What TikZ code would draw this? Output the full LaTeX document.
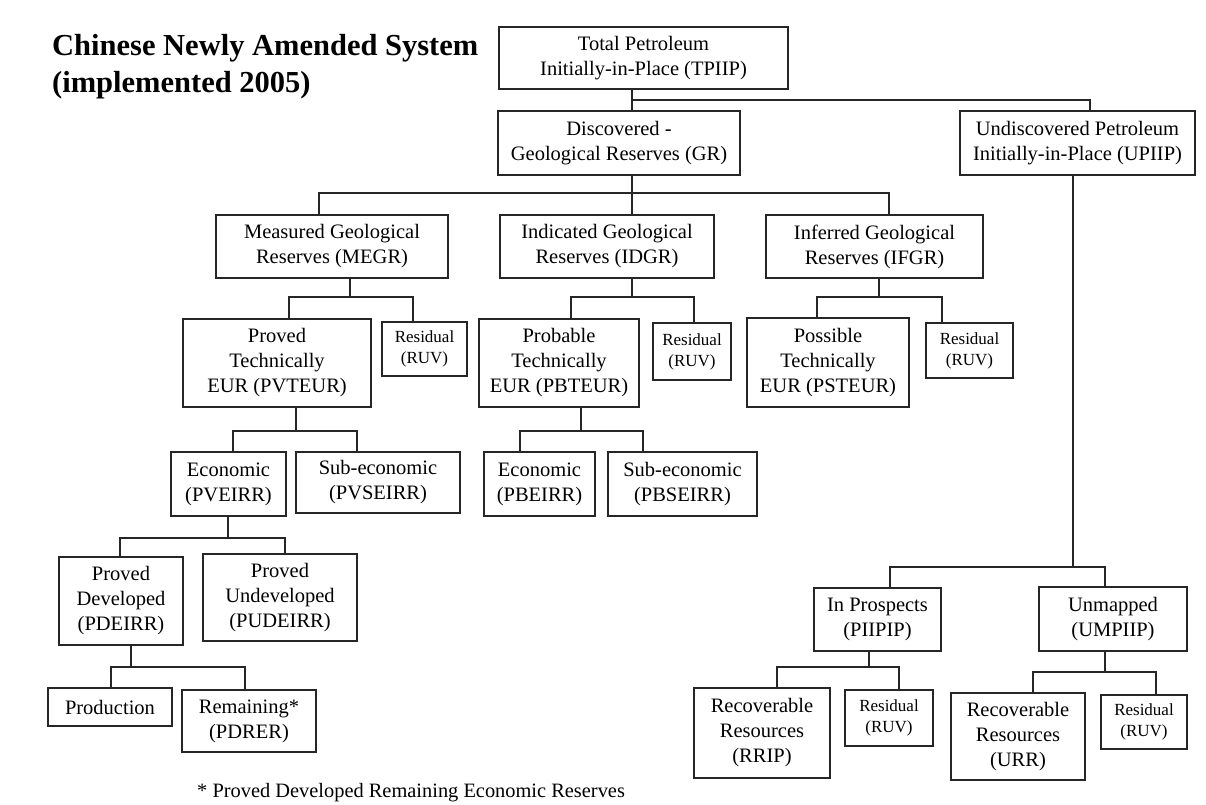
\documentclass[tikz,border=0pt]{standalone}
\usepackage{fontspec}
\setmainfont{Liberation Serif}
\usetikzlibrary{positioning}

\begin{document}
\begin{tikzpicture}[
  x=1pt, y=-1pt,
  box/.style={rectangle, draw=black!85, line width=1.3pt, align=center, inner sep=0pt, font=\fontsize{20.5}{25}\selectfont},
  resbox/.style={box, font=\fontsize{17}{21}\selectfont},
  link/.style={draw=black!85, line width=1.3pt},
  heading/.style={font=\fontsize{30.5}{37}\selectfont\bfseries, align=left, inner sep=0pt},
]
\useasboundingbox (0,0) rectangle (1206,804);

\node[heading, anchor=base west] (title) at (52,92) {Chinese Newly Amended System\\(implemented 2005)};

% top levels
\node[box, minimum width=289pt, minimum height=62pt] (tpiip) at (643.5,58) {Total Petroleum\\Initially-in-Place (TPIIP)};
\node[box, minimum width=242pt, minimum height=64pt] (gr) at (619,143) {Discovered -\\Geological Reserves (GR)};
\node[box, minimum width=235pt, minimum height=64pt] (upiip) at (1077.5,143) {Undiscovered Petroleum\\Initially-in-Place (UPIIP)};

% geological reserves
\node[box, minimum width=232pt, minimum height=63pt] (megr) at (332,246.5) {Measured Geological\\Reserves (MEGR)};
\node[box, minimum width=214pt, minimum height=63pt] (idgr) at (607,246.5) {Indicated Geological\\Reserves (IDGR)};
\node[box, minimum width=217pt, minimum height=63pt] (ifgr) at (874.5,246.5) {Inferred Geological\\Reserves (IFGR)};

% technically recoverable
\node[box, minimum width=188pt, minimum height=88pt] (pvteur) at (277,363) {Proved\\Technically\\EUR (PVTEUR)};
\node[resbox, minimum width=85pt, minimum height=54pt] (res1) at (424.5,349) {Residual\\(RUV)};
\node[box, minimum width=160pt, minimum height=88pt] (pbteur) at (559,363) {Probable\\Technically\\EUR (PBTEUR)};
\node[resbox, minimum width=78pt, minimum height=57pt] (res2) at (692,351.5) {Residual\\(RUV)};
\node[box, minimum width=162pt, minimum height=89pt] (psteur) at (828,362.5) {Possible\\Technically\\EUR (PSTEUR)};
\node[resbox, minimum width=87pt, minimum height=55pt] (res3) at (969.5,350.5) {Residual\\(RUV)};

% economic split
\node[box, minimum width=115pt, minimum height=64pt] (pveirr) at (228.5,484) {Economic\\(PVEIRR)};
\node[box, minimum width=164pt, minimum height=61pt] (pvseirr) at (378,482.5) {Sub-economic\\(PVSEIRR)};
\node[box, minimum width=111pt, minimum height=64pt] (pbeirr) at (539.5,484) {Economic\\(PBEIRR)};
\node[box, minimum width=149pt, minimum height=64pt] (pbseirr) at (682.5,484) {Sub-economic\\(PBSEIRR)};

% proved economic
\node[box, minimum width=124pt, minimum height=88pt] (pdeirr) at (121,601) {Proved\\Developed\\(PDEIRR)};
\node[box, minimum width=154pt, minimum height=87pt] (pudeirr) at (280,597.5) {Proved\\Undeveloped\\(PUDEIRR)};
\node[box, minimum width=124pt, minimum height=38pt] (prod) at (110,707) {Production};
\node[box, minimum width=134pt, minimum height=62pt] (remain) at (249,721) {Remaining*\\(PDRER)};

% undiscovered
\node[box, minimum width=127pt, minimum height=63pt] (piipip) at (877.5,619.5) {In Prospects\\(PIIPIP)};
\node[box, minimum width=148pt, minimum height=64pt] (umpiip) at (1113,619) {Unmapped\\(UMPIIP)};
\node[box, minimum width=136pt, minimum height=90pt] (rrip) at (762,733) {Recoverable\\Resources\\(RRIP)};
\node[resbox, minimum width=88pt, minimum height=56pt] (res4) at (889,718) {Residual\\(RUV)};
\node[box, minimum width=134pt, minimum height=87pt] (urr) at (1018,736.5) {Recoverable\\Resources\\(URR)};
\node[resbox, minimum width=86pt, minimum height=54pt] (res5) at (1144,722) {Residual\\(RUV)};

\node[anchor=base west, inner sep=0pt, font=\fontsize{20.4}{24}\selectfont] (note) at (197,797) {* Proved Developed Remaining Economic Reserves};

% connectors
\draw[link] (tpiip.south -| 632,0) -- (gr.north -| 632,0);
\draw[link] (tpiip.south -| 632,0) -- (632,100) -| (upiip.north -| 1090,0);

\draw[link] (gr.south -| 632,0) -- (632,193) -| (megr.north -| 319,0);
\draw[link] (gr.south -| 632,0) -- (idgr.north -| 632,0);
\draw[link] (gr.south -| 632,0) -- (632,193) -| (ifgr.north -| 889,0);

\draw[link] (megr.south -| 350,0) -- (350,297) -| (pvteur.north -| 289,0);
\draw[link] (megr.south -| 350,0) -- (350,297) -| (res1.north -| 413,0);
\draw[link] (idgr.south -| 632,0) -- (632,297) -| (pbteur.north -| 571,0);
\draw[link] (idgr.south -| 632,0) -- (632,297) -| (res2.north -| 694,0);
\draw[link] (ifgr.south -| 879,0) -- (879,297) -| (psteur.north -| 817,0);
\draw[link] (ifgr.south -| 879,0) -- (879,297) -| (res3.north -| 942,0);

\draw[link] (pvteur.south -| 296,0) -- (296,431) -| (pveirr.north -| 233,0);
\draw[link] (pvteur.south -| 296,0) -- (296,431) -| (pvseirr.north -| 357,0);
\draw[link] (pbteur.south -| 581,0) -- (581,431) -| (pbeirr.north -| 520,0);
\draw[link] (pbteur.south -| 581,0) -- (581,431) -| (pbseirr.north -| 643,0);

\draw[link] (pveirr.south -| 228,0) -- (228,538) -| (pdeirr.north -| 120,0);
\draw[link] (pveirr.south -| 228,0) -- (228,538) -| (pudeirr.north -| 285,0);
\draw[link] (pdeirr.south -| 131,0) -- (131,667) -| (prod.north -| 111,0);
\draw[link] (pdeirr.south -| 131,0) -- (131,667) -| (remain.north -| 245,0);

\draw[link] (upiip.south -| 1073,0) -- (1073,567) -| (piipip.north -| 890,0);
\draw[link] (upiip.south -| 1073,0) -- (1073,567) -| (umpiip.north -| 1105,0);
\draw[link] (piipip.south -| 869,0) -- (869,667) -| (rrip.north -| 777,0);
\draw[link] (piipip.south -| 869,0) -- (869,667) -| (res4.north -| 899,0);
\draw[link] (umpiip.south -| 1105,0) -- (1105,672) -| (urr.north -| 1033,0);
\draw[link] (umpiip.south -| 1105,0) -- (1105,672) -| (res5.north -| 1156,0);
\end{tikzpicture}
\end{document}
